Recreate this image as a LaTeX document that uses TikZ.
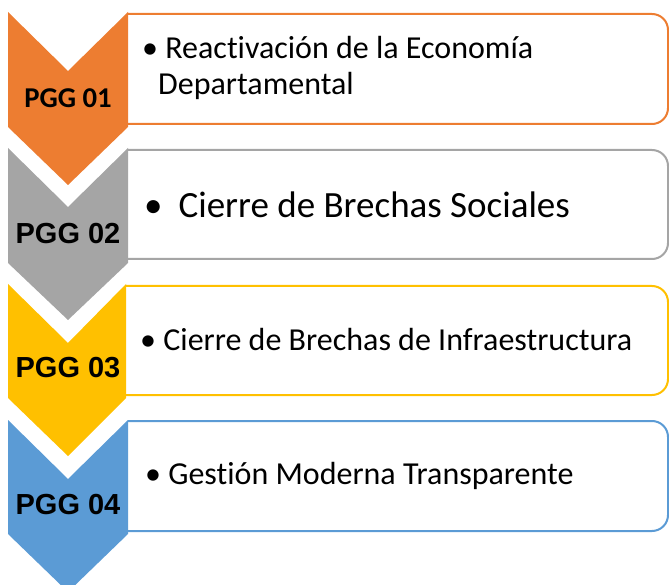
\documentclass[tikz,border=0pt]{standalone}
\usepackage{fontspec}
\setmainfont{Carlito}[Ligatures=NoCommon]
\newfontfamily\arialfont{Liberation Sans}
\definecolor{pggorange}{HTML}{ED7D31}
\definecolor{pgggray}{HTML}{A5A5A5}
\definecolor{pggyellow}{HTML}{FFC000}
\definecolor{pggblue}{HTML}{5B9BD5}
\begin{document}
\begin{tikzpicture}[x=1pt,y=-1pt,
    ribbon/.style={line width=2pt,rounded corners=16pt,fill=white},
    itemtext/.style={anchor=west,align=left,inner sep=0pt,font=\fontsize{32}{36}\selectfont},
    tagtext/.style={inner sep=0pt,font=\arialfont\bfseries\fontsize{29}{30}\selectfont}]
    \clip (0,0) rectangle (669,585);

    % boxes on the right
    \draw[ribbon,draw=pggorange] (128,14) -- (668,14) -- (668,124) -- (128,124);
    \draw[ribbon,draw=pgggray] (128,150) -- (668,150) -- (668,259) -- (128,259);
    \draw[ribbon,draw=pggyellow] (126,286) -- (668,286) -- (668,395) -- (126,395);
    \draw[ribbon,draw=pggblue] (128,421) -- (668,421) -- (668,531) -- (128,531);

    % chevrons
    \fill[pggorange] (8,12) -- (68,71) -- (128,12) -- (128,127) -- (68,185) -- (8,127) -- cycle;
    \fill[pgggray] (8,148) -- (68,207) -- (128,148) -- (128,263) -- (68,320) -- (8,263) -- cycle;
    \fill[pggyellow] (8,284) -- (68,343) -- (126,284) -- (126,398) -- (68,456) -- (8,398) -- cycle;
    \fill[pggblue] (8,420) -- (68,479) -- (128,420) -- (128,534) -- (68,592) -- (8,534) -- cycle;

    \node[tagtext,font=\bfseries\fontsize{28.7}{30}\selectfont] (pgg1) at (68,98) {PGG 01};
    \node[tagtext] (pgg2) at (68,234) {PGG 02};
    \node[tagtext] (pgg3) at (68,368) {PGG 03};
    \node[tagtext] (pgg4) at (68,505) {PGG 04};

    \node[itemtext] (obj1) at (142,68) {•\ Reactivación de la Economía\\\hspace*{16pt}Departamental};
    \node[itemtext,font=\fontsize{37}{40}\selectfont] (obj2) at (144,205) {•\hspace{16pt}Cierre de Brechas Sociales};
    \node[itemtext] (obj3) at (140,340) {•\ Cierre de Brechas de Infraestructura};
    \node[itemtext] (obj4) at (145,476) {•\ Gestión Moderna Transparente};
\end{tikzpicture}
\end{document}
